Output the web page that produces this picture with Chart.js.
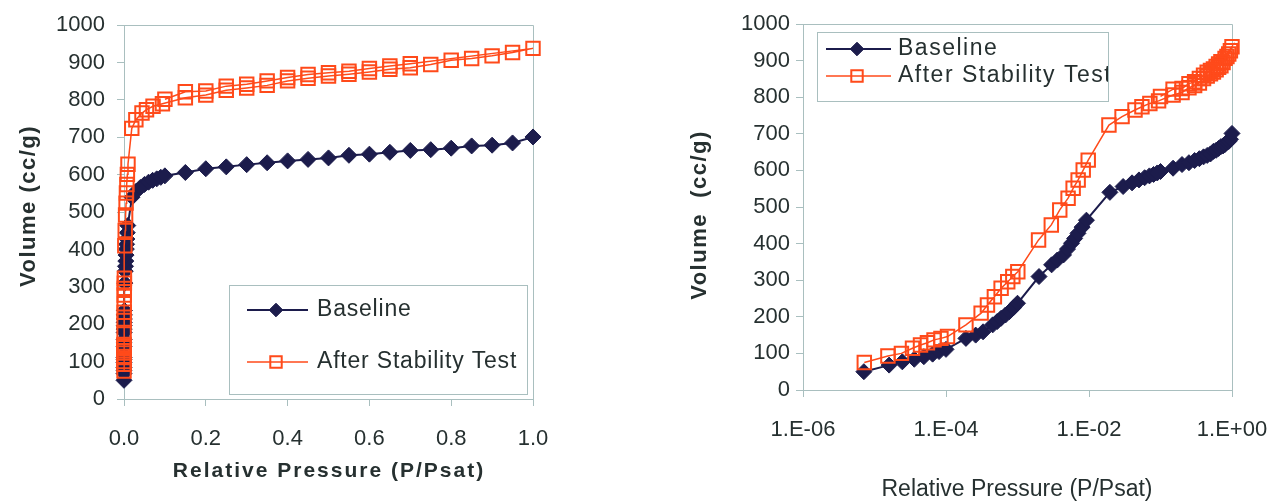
<!DOCTYPE html>
<html><head><meta charset="utf-8">
<script src="https://cdn.jsdelivr.net/npm/chart.js@4.4.1/dist/chart.umd.min.js"></script>
<style>
html,body{margin:0;padding:0;background:#fff;}
#wrap{position:relative;width:1276px;height:502px;overflow:hidden;background:#fff;}
#c1{position:absolute;left:0;top:0;}
#c2{position:absolute;left:620px;top:0;}
</style></head><body>
<div id="wrap"><canvas id="c1" width="620" height="502"></canvas><canvas id="c2" width="656" height="502"></canvas></div>
<script>
// ---------- data ----------
const seriesNames = ['Baseline', 'After Stability Test'];
const baselineP = [7.1e-6, 1.6e-5, 2.45e-5, 3.6e-5, 4.9e-5, 6.5e-5, 8.0e-5, 1.0e-4,
  1.9e-4, 2.6e-4, 3.3e-4, 4.5e-4, 5.2e-4, 5.9e-4, 6.8e-4, 7.7e-4, 8.8e-4, 1.0e-3,
  2.0e-3, 3.0e-3, 3.6e-3, 4.4e-3, 5.0e-3, 5.7e-3, 6.3e-3, 7.0e-3, 8.0e-3, 9.2e-3,
  0.0196, 0.03, 0.04, 0.05, 0.06, 0.07, 0.08, 0.09, 0.1,
  0.15, 0.2, 0.25, 0.3, 0.35, 0.4, 0.45, 0.5, 0.55, 0.6, 0.65, 0.7, 0.75, 0.8, 0.85, 0.9, 0.95, 1.0];
const baselineV = [50, 68, 77, 84, 91, 98, 105, 111,
  141, 150, 159, 178, 187, 196, 205, 214, 225, 237,
  310, 342, 355, 369, 385, 401, 414, 428, 445, 464,
  540, 556, 566, 574, 580, 585, 589, 593, 597,
  606, 616, 621, 627, 632, 637, 641, 645, 652, 655, 660, 665, 667, 671, 677, 679, 685, 701];
const afterP = [7.2e-6, 1.54e-5, 2.38e-5, 3.4e-5, 4.4e-5, 5.5e-5, 6.8e-5, 8.5e-5, 1.05e-4,
  1.9e-4, 3.1e-4, 3.8e-4, 4.75e-4, 5.9e-4, 7.3e-4, 8.6e-4, 1.01e-3,
  1.97e-3, 2.97e-3, 3.9e-3, 5.1e-3, 6.0e-3, 7.05e-3, 8.3e-3, 9.75e-3,
  0.019, 0.029, 0.044, 0.055, 0.071, 0.094,
  0.15, 0.2, 0.25, 0.3, 0.35, 0.4, 0.45, 0.5, 0.55, 0.6, 0.65, 0.7, 0.75, 0.8, 0.85, 0.9, 0.95, 1.0,
  0.7, 0.65, 0.6, 0.55, 0.5, 0.45, 0.4, 0.35, 0.3, 0.25, 0.2, 0.15, 0.1];
const afterV = [75, 93, 100, 114, 123, 129, 137, 141, 146,
  178, 210, 232, 255, 278, 296, 310, 323,
  410, 451, 492, 524, 551, 574, 601, 628,
  724, 747, 765, 774, 783, 790,
  806, 813, 826, 832, 839, 851, 858, 864, 869, 875, 882, 886, 895, 906, 911, 918, 927, 938,
  897, 891, 884, 877, 873, 868, 860, 851, 842, 837, 824, 822, 802];
const linearTicks = [0, 0.2, 0.4, 0.6, 0.8, 1.0];
const linearTickLabels = ['0.0', '0.2', '0.4', '0.6', '0.8', '1.0'];
const logTicks = [1e-6, 1e-4, 1e-2, 1];
const logTickLabels = ['1.E-06', '1.E-04', '1.E-02', '1.E+00'];
const yTicks = [0, 100, 200, 300, 400, 500, 600, 700, 800, 900, 1000];
const xTitle = 'Relative Pressure (P/Psat)';
const yTitleLeft = 'Volume (cc/g)';
const yTitleRight = 'Volume  (cc/g)';

// ---------- style ----------
const FONT = '"Liberation Sans", Arial, sans-serif';
const TXT = '#263030';
const AXIS = '#a9bfbf';
const NAVY = '#1c1c4c';
const ORANGE = '#ff4a1a';

function pts(p, v) { return p.map((x, i) => ({ x: x, y: v[i] })); }

function makeDatasets() {
  return [
    { label: seriesNames[0], data: pts(baselineP, baselineV), showLine: true,
      borderColor: NAVY, borderWidth: 2, pointStyle: 'rectRot', pointRadius: 8,
      pointBackgroundColor: NAVY, pointBorderColor: NAVY, pointBorderWidth: 1, order: 1, clip: false },
    { label: seriesNames[1], data: pts(afterP, afterV), showLine: true,
      borderColor: ORANGE, borderWidth: 1.5, pointStyle: 'rect', pointRadius: 9.5,
      pointBackgroundColor: 'rgba(255,255,255,0)', pointBorderColor: ORANGE, pointBorderWidth: 2, order: 0, clip: false }
  ];
}

const framePlugin = {
  id: 'frame',
  beforeDatasetsDraw(chart) {
    const { left, right, top, bottom } = chart.chartArea;
    const ctx = chart.ctx;
    ctx.save();
    ctx.strokeStyle = AXIS; ctx.lineWidth = 1;
    ctx.beginPath();
    ctx.moveTo(left, Math.round(top) + 0.5);
    ctx.lineTo(Math.round(right) + 0.5, Math.round(top) + 0.5);
    ctx.lineTo(Math.round(right) + 0.5, bottom);
    ctx.stroke();
    ctx.restore();
  }
};

const titlePlugin = {
  id: 'axTitles',
  afterDraw(chart, args, opts) {
    const ctx = chart.ctx;
    (opts.items || []).forEach(t => {
      ctx.save();
      ctx.font = t.font;
      ctx.fillStyle = TXT;
      ctx.textAlign = 'center';
      ctx.textBaseline = 'middle';
      if ('letterSpacing' in ctx) ctx.letterSpacing = (t.spacing || 0) + 'px';
      ctx.translate(t.x, t.y);
      if (t.rotate) ctx.rotate(-Math.PI / 2);
      ctx.fillText(t.text, 0, 0);
      ctx.restore();
    });
  }
};

const legendPlugin = {
  id: 'boxLegend',
  afterDraw(chart, args, o) {
    const ctx = chart.ctx;
    ctx.save();
    ctx.fillStyle = '#fff';
    ctx.fillRect(o.x, o.y, o.w, o.h);
    ctx.strokeStyle = AXIS; ctx.lineWidth = 1;
    ctx.strokeRect(o.x + 0.5, o.y + 0.5, o.w, o.h);
    ctx.beginPath(); ctx.rect(o.x, o.y, o.w, o.h); ctx.clip();
    chart.data.datasets.forEach((ds, i) => {
      const y = o.rows[i];
      ctx.strokeStyle = ds.borderColor; ctx.lineWidth = ds.borderWidth;
      ctx.beginPath(); ctx.moveTo(o.lx1, y); ctx.lineTo(o.lx2, y); ctx.stroke();
      ctx.fillStyle = ds.pointBackgroundColor;
      ctx.strokeStyle = ds.pointBorderColor;
      ctx.lineWidth = ds.pointBorderWidth;
      Chart.helpers.drawPoint(ctx, { pointStyle: ds.pointStyle, radius: ds.pointRadius * 0.85, rotation: 0, borderWidth: ds.pointBorderWidth }, o.mx, y);
      ctx.fillStyle = TXT;
      ctx.font = o.font;
      ctx.textAlign = 'left';
      ctx.textBaseline = 'middle';
      if ('letterSpacing' in ctx) ctx.letterSpacing = (o.spacing || 0) + 'px';
      ctx.fillText(ds.label, o.tx, y);
      if ('letterSpacing' in ctx) ctx.letterSpacing = '0px';
    });
    ctx.restore();
  }
};

function axisCommon() {
  return {
    grid: { drawOnChartArea: false, drawTicks: true, tickLength: 7, color: AXIS, lineWidth: 1 },
    border: { display: true, color: AXIS, width: 1 },
    title: { display: false }
  };
}

function yAxis(width, pad) {
  return Object.assign(axisCommon(), {
    type: 'linear', min: 0, max: 1000,
    afterBuildTicks: s => { s.ticks = yTicks.map(v => ({ value: v })); },
    afterFit: s => { s.width = width; },
    ticks: { font: { family: FONT, size: 22 }, color: TXT, padding: pad,
      callback: (v, i) => String(yTicks[i]) }
  });
}

Chart.defaults.animation = false;
Chart.defaults.font.family = FONT;

// ---------- left chart ----------
new Chart(document.getElementById('c1'), {
  type: 'scatter',
  data: { datasets: makeDatasets() },
  options: {
    responsive: false, devicePixelRatio: 1, animation: false,
    layout: { padding: { left: 0, top: 25, right: 87, bottom: 0 } },
    plugins: {
      legend: { display: false }, tooltip: { enabled: false },
      boxLegend: { x: 229, y: 285, w: 298, h: 109, rows: [310, 362], lx1: 247, lx2: 308, mx: 276, tx: 317,
        font: '23px ' + FONT, spacing: 0.8 },
      axTitles: { items: [
        { text: xTitle, x: 329, y: 471, font: 'bold 21px ' + FONT, spacing: 2 },
        { text: yTitleLeft, x: 29, y: 206, font: 'bold 22px ' + FONT, spacing: 1.5, rotate: true }
      ] }
    },
    scales: {
      x: Object.assign(axisCommon(), {
        type: 'linear', min: 0, max: 1,
        afterBuildTicks: s => { s.ticks = linearTicks.map(v => ({ value: v })); },
        afterFit: s => { s.height = 103; s.paddingLeft = 0; s.paddingRight = 0; },
        ticks: { font: { family: FONT, size: 22 }, color: TXT, padding: 20, maxRotation: 0, autoSkip: false,
          callback: (v, i) => linearTickLabels[i] }
      }),
      y: yAxis(124, 12)
    }
  },
  plugins: [framePlugin, titlePlugin, legendPlugin]
});

// ---------- right chart ----------
new Chart(document.getElementById('c2'), {
  type: 'scatter',
  data: { datasets: makeDatasets() },
  options: {
    responsive: false, devicePixelRatio: 1, animation: false,
    layout: { padding: { left: 0, top: 24, right: 44, bottom: 0 } },
    plugins: {
      legend: { display: false }, tooltip: { enabled: false },
      boxLegend: { x: 197, y: 32, w: 291, h: 69, rows: [49, 76], lx1: 206, lx2: 271, mx: 237, tx: 278,
        font: '23px ' + FONT, spacing: 1.5 },
      axTitles: { items: [
        { text: xTitle, x: 397, y: 490, font: '23px ' + FONT, spacing: 0 },
        { text: yTitleRight, x: 80, y: 215, font: 'bold 22px ' + FONT, spacing: 1.5, rotate: true }
      ] }
    },
    scales: {
      x: Object.assign(axisCommon(), {
        type: 'logarithmic', min: 1e-6, max: 1,
        afterBuildTicks: s => { s.ticks = logTicks.map(v => ({ value: v })); },
        afterFit: s => { s.height = 112; s.paddingLeft = 0; s.paddingRight = 0; },
        ticks: { font: { family: FONT, size: 22 }, color: TXT, padding: 20, maxRotation: 0, autoSkip: false,
          callback: (v, i) => logTickLabels[i] }
      }),
      y: yAxis(183, 6)
    }
  },
  plugins: [framePlugin, titlePlugin, legendPlugin]
});
</script>
</body></html>
